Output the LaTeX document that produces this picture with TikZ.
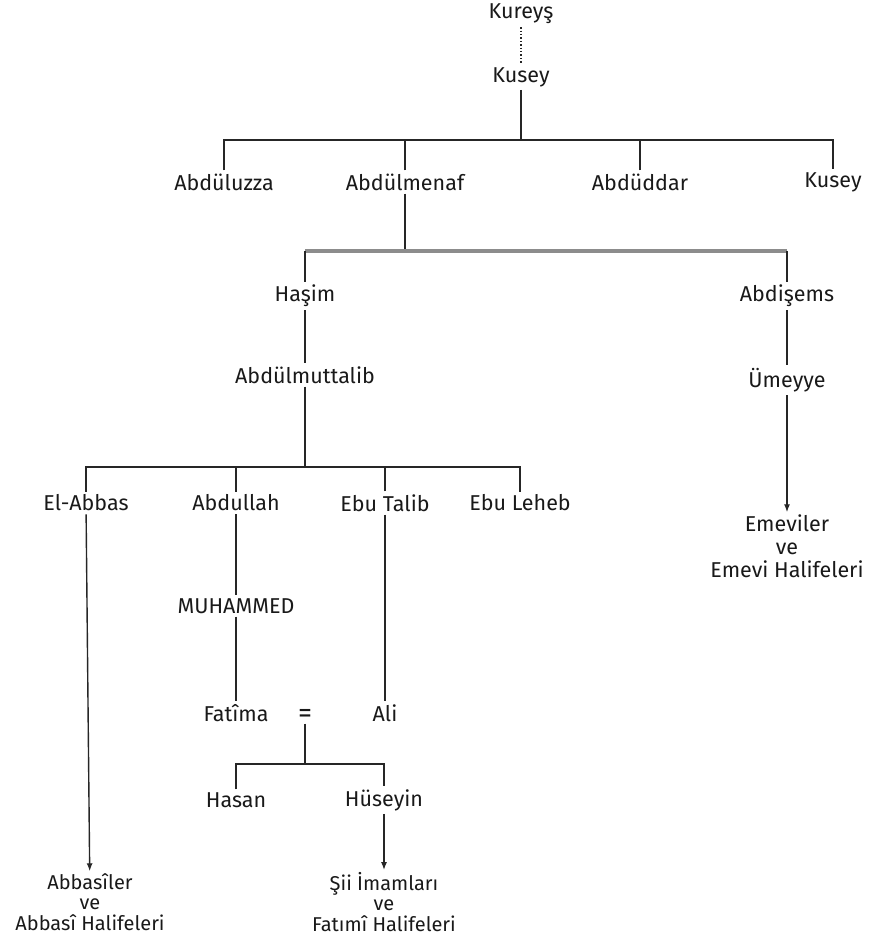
\documentclass[tikz,border=0pt]{standalone}
\usepackage{fontspec}
\setmainfont{Fira Sans}
\usetikzlibrary{arrows.meta}
\begin{document}
\begin{tikzpicture}[x=1pt,y=-1pt,
  person/.style={font=\fontsize{21.5}{23}\selectfont, inner sep=3pt, text=black!90},
  multi/.style={person, align=center, inner sep=2pt},
  tight/.style={multi, font=\fontsize{20}{20.5}\selectfont},
  conn/.style={line width=1.4pt, black!85},
  thickbar/.style={line width=3.2pt, black!45},
  arr/.style={conn, -{Latex[length=8pt,width=6pt]}}]
\useasboundingbox (0,0) rectangle (870,941);
% top
\node[person] (kureys) at (521,14) {Kureyş};
\node[person] (kusey1) at (521,77) {Kusey};
\draw[conn, dotted, line width=1.3pt] (kureys) -- (kusey1);
% level 2
\coordinate (b1) at (521,140);
\node[person] (abduluzza) at (224,182) {Abdüluzza};
\node[person] (abdulmenaf) at (405,182) {Abdülmenaf};
\node[person] (abduddar) at (640,182) {Abdüddar};
\node[person] (kusey2) at (833,182) {Kusey};
\draw[conn] (kusey1) -- (b1);
\draw[conn] (abduluzza.north) -- (abduluzza.north |- b1) -- (kusey2.north |- b1) -- (kusey2.north);
\draw[conn] (abdulmenaf.north) -- (abdulmenaf.north |- b1);
\draw[conn] (abduddar.north) -- (abduddar.north |- b1);
% level 3
\coordinate (b2) at (405,251);
\node[person] (hasim) at (305,296) {Haşim};
\node[person] (abdisems) at (787,296) {Abdişems};
\draw[conn] (abdulmenaf) -- (b2);
\draw[thickbar] (hasim.north |- b2) -- (abdisems.north |- b2);
\draw[conn] (hasim.north) -- (hasim.north |- b2);
\draw[conn] (abdisems.north) -- (abdisems.north |- b2);
% Hasim line
\node[person] (muttalib) at (305,375) {Abdülmuttalib};
\draw[conn] (hasim) -- (muttalib);
% Umeyye line
\node[person] (umeyye) at (787,380) {Ümeyye};
\node[multi] (emevi) at (787,546) {Emeviler\\ve\\Emevi Halifeleri};
\draw[conn] (abdisems) -- (umeyye);
\draw[arr] (umeyye) -- (emevi);
% level 4
\coordinate (b3) at (305,467);
\node[person] (abbas) at (86,503) {El-Abbas};
\node[person] (abdullah) at (236,503) {Abdullah};
\node[person] (ebutalib) at (385,503) {Ebu Talib};
\node[person] (ebuleheb) at (520,503) {Ebu Leheb};
\draw[conn] (muttalib) -- (b3);
\draw[conn] (abbas.north) -- (abbas.north |- b3) -- (ebuleheb.north |- b3) -- (ebuleheb.north);
\draw[conn] (abdullah.north) -- (abdullah.north |- b3);
\draw[conn] (ebutalib.north) -- (ebutalib.north |- b3);
% Abbas line
\node[tight] (abbasiler) at (90,902) {Abbasîler\\ve\\Abbasî Halifeleri};
\draw[arr] (abbas) -- (abbasiler);
% Muhammed
\node[person] (muhammed) at (236,606) {MUHAMMED};
\node[person] (fatima) at (236,713) {Fatîma};
\node[person] (ali) at (385,713) {Ali};
\node[person, inner sep=1pt, font=\fontsize{28}{28}\selectfont] (eq) at (305,716) {=};
\draw[conn] (abdullah) -- (muhammed);
\draw[conn] (muhammed) -- (fatima);
\draw[conn] (ebutalib) -- (ali);
% children
\coordinate (b4) at (305,764);
\node[person] (hasan) at (236,800) {Hasan};
\node[person] (huseyin) at (384,800) {Hüseyin};
\draw[conn] (eq) -- (b4);
\draw[conn] (hasan.north) -- (hasan.north |- b4) -- (huseyin.north |- b4) -- (huseyin.north);
\node[tight] (sii) at (384,902) {Şii İmamları\\ve\\Fatımî Halifeleri};
\draw[arr] (huseyin) -- (sii);
\end{tikzpicture}
\end{document}
